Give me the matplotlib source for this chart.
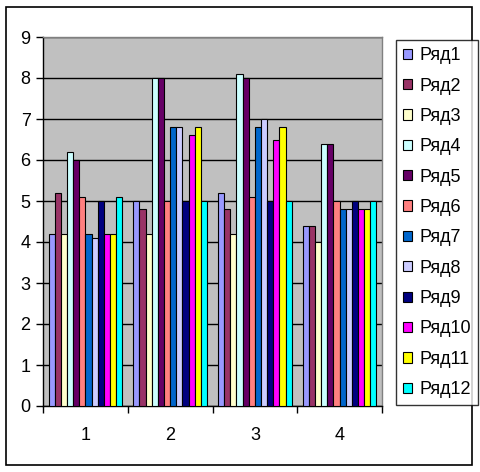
import matplotlib
matplotlib.use("Agg")
import matplotlib.pyplot as plt
from matplotlib.patches import Rectangle
import numpy as np

plt.rcParams["font.family"] = ["Liberation Sans", "DejaVu Sans"]

categories = ["1", "2", "3", "4"]
series_names = ["Ряд1", "Ряд2", "Ряд3", "Ряд4", "Ряд5", "Ряд6",
                "Ряд7", "Ряд8", "Ряд9", "Ряд10", "Ряд11", "Ряд12"]

# one list per series, values for categories 1..4
ryad1 = [4.2, 5.0, 5.2, 4.4]
ryad2 = [5.2, 4.8, 4.8, 4.4]
ryad3 = [4.2, 4.2, 4.2, 4.0]
ryad4 = [6.2, 8.0, 8.1, 6.4]
ryad5 = [6.0, 8.0, 8.0, 6.4]
ryad6 = [5.1, 5.0, 5.1, 5.0]
ryad7 = [4.2, 6.8, 6.8, 4.8]
ryad8 = [4.1, 6.8, 7.0, 4.8]
ryad9 = [5.0, 5.0, 5.0, 5.0]
ryad10 = [4.2, 6.6, 6.5, 4.8]
ryad11 = [4.2, 6.8, 6.8, 4.8]
ryad12 = [5.1, 5.0, 5.0, 5.0]

series = [ryad1, ryad2, ryad3, ryad4, ryad5, ryad6,
          ryad7, ryad8, ryad9, ryad10, ryad11, ryad12]

colors = ["#9999FF", "#993366", "#FFFFCC", "#CCFFFF", "#660066", "#FF8080",
          "#0066CC", "#CCCCFF", "#000080", "#FF00FF", "#FFFF00", "#00FFFF"]

fig = plt.figure(figsize=(4.8, 4.72), dpi=100)
ax = fig.add_axes([43 / 480, 66 / 472, 339 / 480, 369 / 472])
ax.set_facecolor("#C0C0C0")

x = np.arange(len(categories))
bar_w = 0.0725
offset0 = -bar_w * (len(series) - 1) / 2
handles = []
for i, (vals, col, name) in enumerate(zip(series, colors, series_names)):
    b = ax.bar(x + offset0 + i * bar_w, vals, width=bar_w, color=col,
               edgecolor="black", linewidth=0.8, label=name, zorder=3)
    handles.append(b)

ax.set_xlim(-0.5, len(categories) - 0.5)
ax.set_ylim(0, 9)
ax.set_yticks(range(0, 10))
ax.yaxis.grid(True, color="black", linewidth=1.0, zorder=1)
ax.set_axisbelow(True)

ax.set_xticks(x)
ax.set_xticklabels(categories)
ax.set_xticks(np.arange(-0.5, len(categories)), minor=True)
ax.tick_params(axis="x", which="major", length=0, pad=15, labelsize=13)
ax.tick_params(axis="x", which="minor", length=5, width=1, color="black")
ax.tick_params(axis="y", length=5, width=1, labelsize=13, pad=4)

for side in ["top", "right"]:
    ax.spines[side].set_color("#808080")
    ax.spines[side].set_linewidth(1.0)
for side in ["left", "bottom"]:
    ax.spines[side].set_color("black")
    ax.spines[side].set_linewidth(1.0)

leg = fig.legend(handles=handles, loc="upper left",
                 bbox_to_anchor=(396 / 480, 432 / 472),
                 fontsize=13, frameon=True, fancybox=False,
                 handlelength=0.5, handleheight=0.5, handletextpad=0.4,
                 labelspacing=0.74, borderpad=0.4, borderaxespad=0)
leg.get_frame().set_edgecolor("black")
leg.get_frame().set_linewidth(1.0)

fig.patches.append(Rectangle((6 / 480, 7 / 472), 466 / 480, 458 / 472,
                             transform=fig.transFigure, fill=False,
                             edgecolor="black", linewidth=1.2))

fig.savefig("out.png", dpi=100)
